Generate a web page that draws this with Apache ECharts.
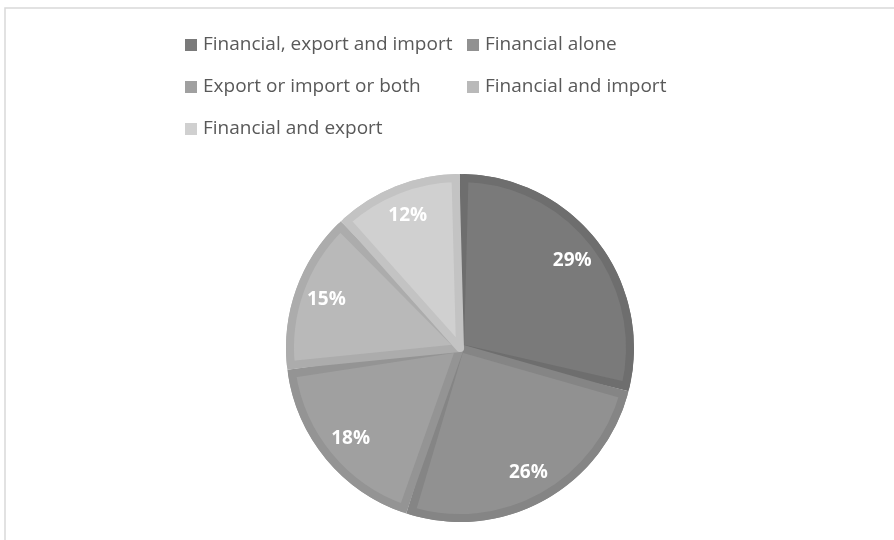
<!DOCTYPE html>
<html>
<head>
<meta charset="utf-8">
<script src="https://cdn.jsdelivr.net/npm/echarts@6/dist/echarts.min.js"></script>
<style>html,body{margin:0;padding:0;background:#fff}#c{width:894px;height:540px}</style>
</head>
<body>
<div id="c"></div>
<script>
var categories = ['Financial, export and import', 'Financial alone', 'Export or import or both', 'Financial and import', 'Financial and export'];
var values = [29, 26, 18, 15, 12];
var fillColors = ['#7a7a7a', '#919191', '#a0a0a0', '#b9b9b9', '#d0d0d0'];
var borderColors = ['#6e6e6e', '#858585', '#949494', '#acacac', '#c3c3c3'];
var legendLeft = [categories[0], categories[2], categories[4]];
var legendRight = [categories[1], categories[3]];

function mk(colors, withBorder) {
  return categories.map(function (n, i) {
    var st = { color: colors[i] };
    if (withBorder) { st.borderColor = borderColors[i]; st.borderWidth = 8; st.borderJoin = 'round'; }
    return { name: n, value: values[i], itemStyle: st };
  });
}
var FONT = '"Open Sans", sans-serif';
var chart = echarts.init(document.getElementById('c'), null, { renderer: 'canvas' });
var legendCommon = {
  orient: 'vertical', top: 34, padding: 0, itemWidth: 12, itemHeight: 12, itemGap: 20,
  icon: 'rect', selectedMode: false,
  itemStyle: { borderWidth: 0 },
  textStyle: { color: '#595959', fontSize: 19, fontFamily: FONT, lineHeight: 22, padding: [0, 0, 0, 1] }
};
chart.setOption({
  animation: false,
  backgroundColor: '#ffffff',
  graphic: [{ type: 'rect', shape: { x: 5, y: 8, width: 1000, height: 1000 }, style: { fill: 'none', stroke: '#d9d9d9', lineWidth: 1.5 }, silent: true }],
  legend: [
    Object.assign({}, legendCommon, { left: 185, data: legendLeft }),
    Object.assign({}, legendCommon, { left: 467, data: legendRight })
  ],
  series: [
    {
      type: 'pie', name: 'fill', center: [460, 348], radius: [0, 170], padAngle: 3,
      startAngle: 90, clockwise: true, z: 3, silent: true,
      label: { show: false }, labelLine: { show: false },
      data: mk(fillColors, true)
    },
    {
      type: 'pie', name: 'border', center: [460, 348], radius: [0, 174],
      startAngle: 90, clockwise: true, z: 2, silent: true,
      label: { show: false }, labelLine: { show: false },
      data: mk(borderColors, false)
    },
    {
      type: 'pie', name: 'labels', center: [460, 348], radius: [104, 174],
      startAngle: 90, clockwise: true, z: 4, silent: true,
      itemStyle: { color: 'transparent' },
      label: { show: true, position: 'inside', formatter: '{c}%', color: '#ffffff', fontSize: 19, fontWeight: 'bold', fontFamily: FONT },
      labelLine: { show: false },
      data: values.map(function (v, i) { return { name: categories[i], value: v, itemStyle: { color: 'transparent' } }; })
    }
  ]
});
</script>
</body>
</html>
